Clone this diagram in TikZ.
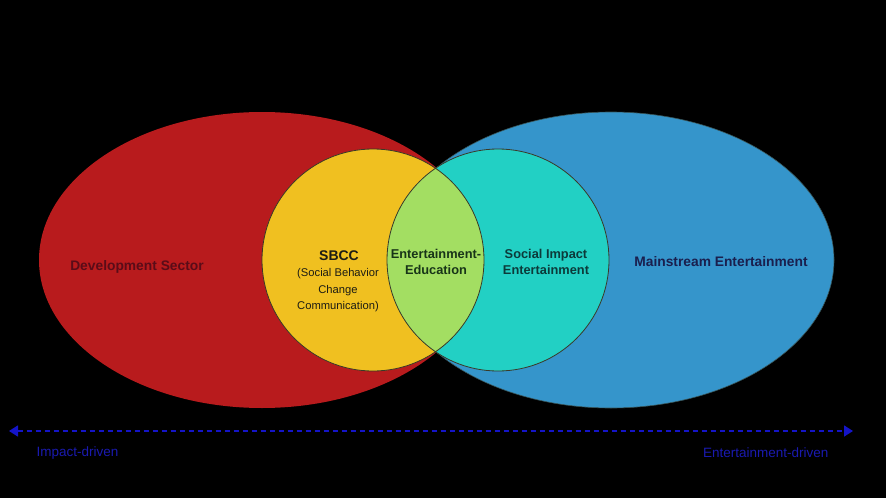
\documentclass[tikz,border=0pt]{standalone}
\usepackage{fontspec}
\setmainfont{Liberation Sans}
\usetikzlibrary{shapes.geometric,arrows.meta}
\definecolor{devred}{HTML}{B81B1D}
\definecolor{mainblue}{HTML}{3595CB}
\definecolor{sbccyellow}{HTML}{F0C020}
\definecolor{sieteal}{HTML}{22D0C4}
\definecolor{eegreen}{HTML}{A3DE62}
\definecolor{devtext}{HTML}{5A0C18}
\definecolor{maintext}{HTML}{1A1F4E}
\definecolor{darktext}{HTML}{1C1C14}
\definecolor{eetext}{HTML}{183418}
\definecolor{sietext}{HTML}{0C3A3A}
\definecolor{axisblue}{HTML}{1414C8}
\definecolor{axistext}{HTML}{1A1AB0}
\definecolor{rim}{HTML}{3A3A28}
\tikzset{
  bigset/.style={ellipse, inner sep=0pt, minimum width=446pt, minimum height=296pt},
  subset/.style={circle, inner sep=0pt, minimum size=222pt},
  lbl/.style={font=\bfseries\fontsize{13.8}{16}\selectfont, align=center},
  midlbl/.style={font=\bfseries\fontsize{12.8}{15.5}\selectfont, align=center},
  axislbl/.style={font=\fontsize{13.5}{15}\selectfont, text=axistext},
  axisline/.style={draw=axisblue, line width=1.6pt, dash pattern=on 5pt off 4pt,
    {Triangle[length=9pt,width=11pt]}-{Triangle[length=9pt,width=11pt]}}
}
\begin{document}
\begin{tikzpicture}[x=1pt,y=-1pt]
\fill[black] (0,0) rectangle (886,498);
\useasboundingbox (0,0) rectangle (886,498);
% outer sets
\node[bigset, fill=devred] (dev) at (262,260) {};
\node[bigset, fill=mainblue, draw=rim!70!mainblue, line width=0.6pt] (main) at (611,260) {};
% inner circles
\node[subset, fill=sbccyellow] (sbcc) at (373,260) {};
\node[subset, fill=sieteal] (sie) at (498,260) {};
\begin{scope}
  \clip (sbcc.center) circle[radius=111];
  \fill[eegreen] (sie.center) circle[radius=111];
\end{scope}
\draw[rim, line width=0.8pt] (sbcc.center) circle[radius=111];
\draw[rim, line width=0.8pt] (sie.center) circle[radius=111];
% labels
\node[lbl, text=devtext] (devlbl) at (137,267) {Development Sector};
\node[lbl, text=maintext] (mainlbl) at (721,262) {Mainstream Entertainment};
\node[font=\bfseries\fontsize{14}{16}\selectfont, text=darktext] (sbcclbl) at (339,256) {SBCC};
\node[font=\fontsize{11.2}{16.5}\selectfont, text=darktext, align=center, anchor=north] (sbccsub) at (338,265) {(Social Behavior\\Change\\Communication)};
\node[midlbl, text=eetext] (eelbl) at (436,262) {Entertainment-\\Education};
\node[midlbl, text=sietext] (sielbl) at (546,262) {Social Impact\\Entertainment};
% axis
\coordinate (aL) at (9,431);
\coordinate (aR) at (853,431);
\draw[axisline] (aL) -- (aR);
\node[axislbl, anchor=west] (impact) at (33,453) {Impact-driven};
\node[axislbl, anchor=east] (ent) at (832,453) {Entertainment-driven};
\end{tikzpicture}
\end{document}
